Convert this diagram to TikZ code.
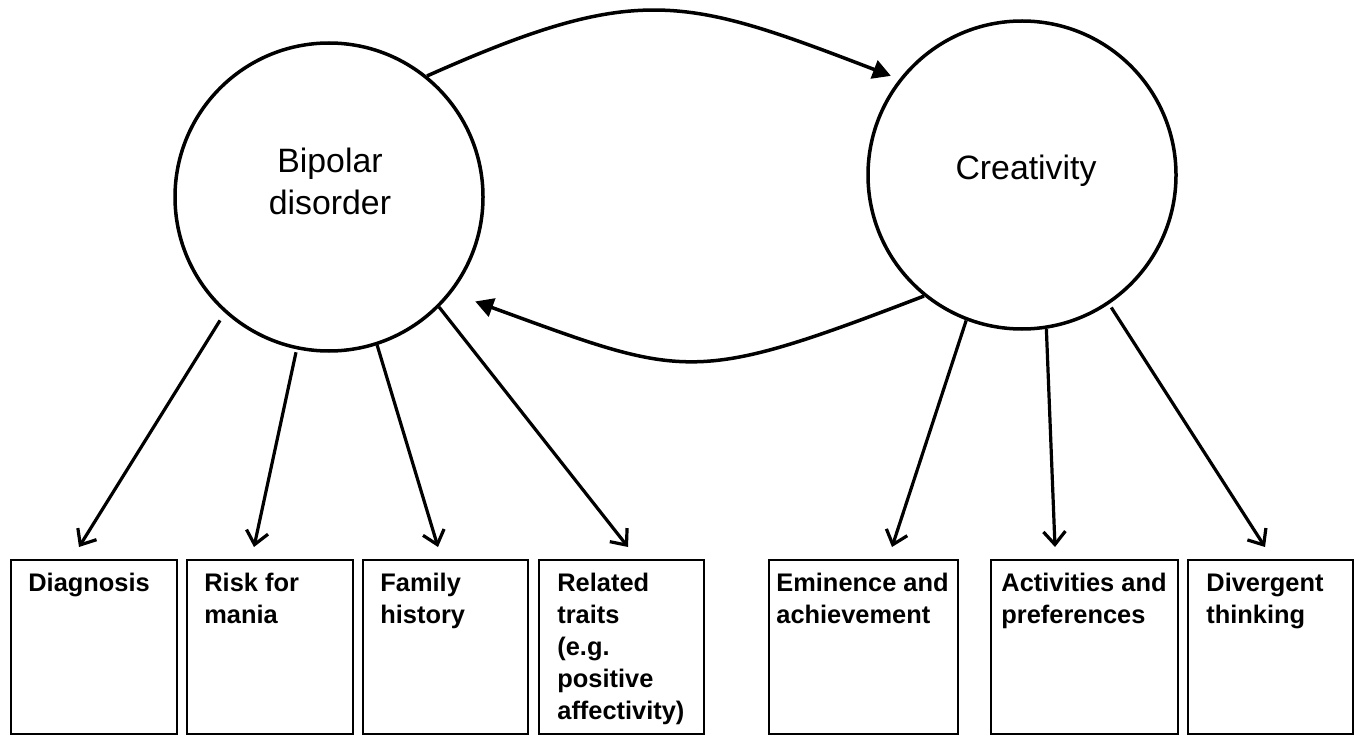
\documentclass[tikz,border=0pt]{standalone}
\usepackage{fontspec}
\setmainfont{Liberation Sans}
\usetikzlibrary{arrows.meta}

\begin{document}
\begin{tikzpicture}[x=0.5pt,y=0.5pt,
	latent/.style={circle,draw,line width=1.75pt,minimum size=154pt,inner sep=0pt},
	latenttext/.style={align=center,inner sep=0pt,font=\fontsize{16.9}{21}\selectfont},
	measure/.style={rectangle,draw,line width=1pt,minimum height=87pt,inner sep=0pt,anchor=north west},
	measuretext/.style={align=left,inner sep=0pt,anchor=north west,font=\fontsize{12.7}{16}\selectfont\bfseries},
	link/.style={line width=1.75pt,-{Triangle[length=9pt,width=9.5pt]}},
	load/.style={line width=1.6pt,-{Straight Barb[length=6.5pt,width=11pt]}}]
	\useasboundingbox (0,0) rectangle (1358,735);

	\draw[] (329,538) node[latent] (Bipolar) {};
	\draw[] (1022,560) node[latent] (Creativity) {};
	\draw[] (330,554) node[latenttext] (BipolarText) {Bipolar\\disorder};
	\draw[] (1026,564) node[latenttext] (CreativityText) {Creativity};

	\draw[] (10,176) node[measure,minimum width=83pt] (Diagnosis) {};
	\draw[] (186,176) node[measure,minimum width=83pt] (Risk) {};
	\draw[] (362,176) node[measure,minimum width=82.5pt] (Family) {};
	\draw[] (538,176) node[measure,minimum width=82.5pt] (Traits) {};
	\draw[] (768,176) node[measure,minimum width=94.5pt] (Eminence) {};
	\draw[] (990,176) node[measure,minimum width=93.5pt] (Activities) {};
	\draw[] (1187,176) node[measure,minimum width=82.5pt] (Divergent) {};

	\draw[] (28,162) node[measuretext] (DiagnosisText) {Diagnosis};
	\draw[] (204,162) node[measuretext] (RiskText) {Risk for\\mania};
	\draw[] (380,162) node[measuretext] (FamilyText) {Family\\history};
	\draw[] (557,162) node[measuretext] (TraitsText) {Related\\traits\\(e.g.\\positive\\affectivity)};
	\draw[] (776,162) node[measuretext] (EminenceText) {Eminence and\\achievement};
	\draw[] (1001,162) node[measuretext] (ActivitiesText) {Activities and\\preferences};
	\draw[] (1206,162) node[measuretext] (DivergentText) {Divergent\\thinking};

	\draw[link,shorten >=4.5pt] (Bipolar.51.4) to[out=24,in=159,looseness=1.25] (Creativity.142);
	\draw[link,shorten >=12.5pt] (Creativity.-129.7) to[out=201,in=-20,looseness=1.35] (Bipolar.-38);

	\draw[load,shorten <=4.5pt] (Bipolar.-132.3) -- ([xshift=-7.5pt,yshift=6pt]Diagnosis.north);
	\draw[load,shorten <=1.5pt] (Bipolar.-102.1) -- ([xshift=-8pt,yshift=6pt]Risk.north);
	\draw[load] (Bipolar.-72.6) -- ([xshift=-3.75pt,yshift=6pt]Family.north);
	\draw[load] (Bipolar.-45) -- ([xshift=3.25pt,yshift=6pt]Traits.north);
	\draw[load] (Creativity.-111) -- ([xshift=14.25pt,yshift=6pt]Eminence.north);
	\draw[load] (Creativity.-81.9) -- ([xshift=-14.75pt,yshift=6pt]Activities.north);
	\draw[load,shorten <=2pt] (Creativity.-56.3) -- ([xshift=-2.75pt,yshift=6pt]Divergent.north);
\end{tikzpicture}
\end{document}
